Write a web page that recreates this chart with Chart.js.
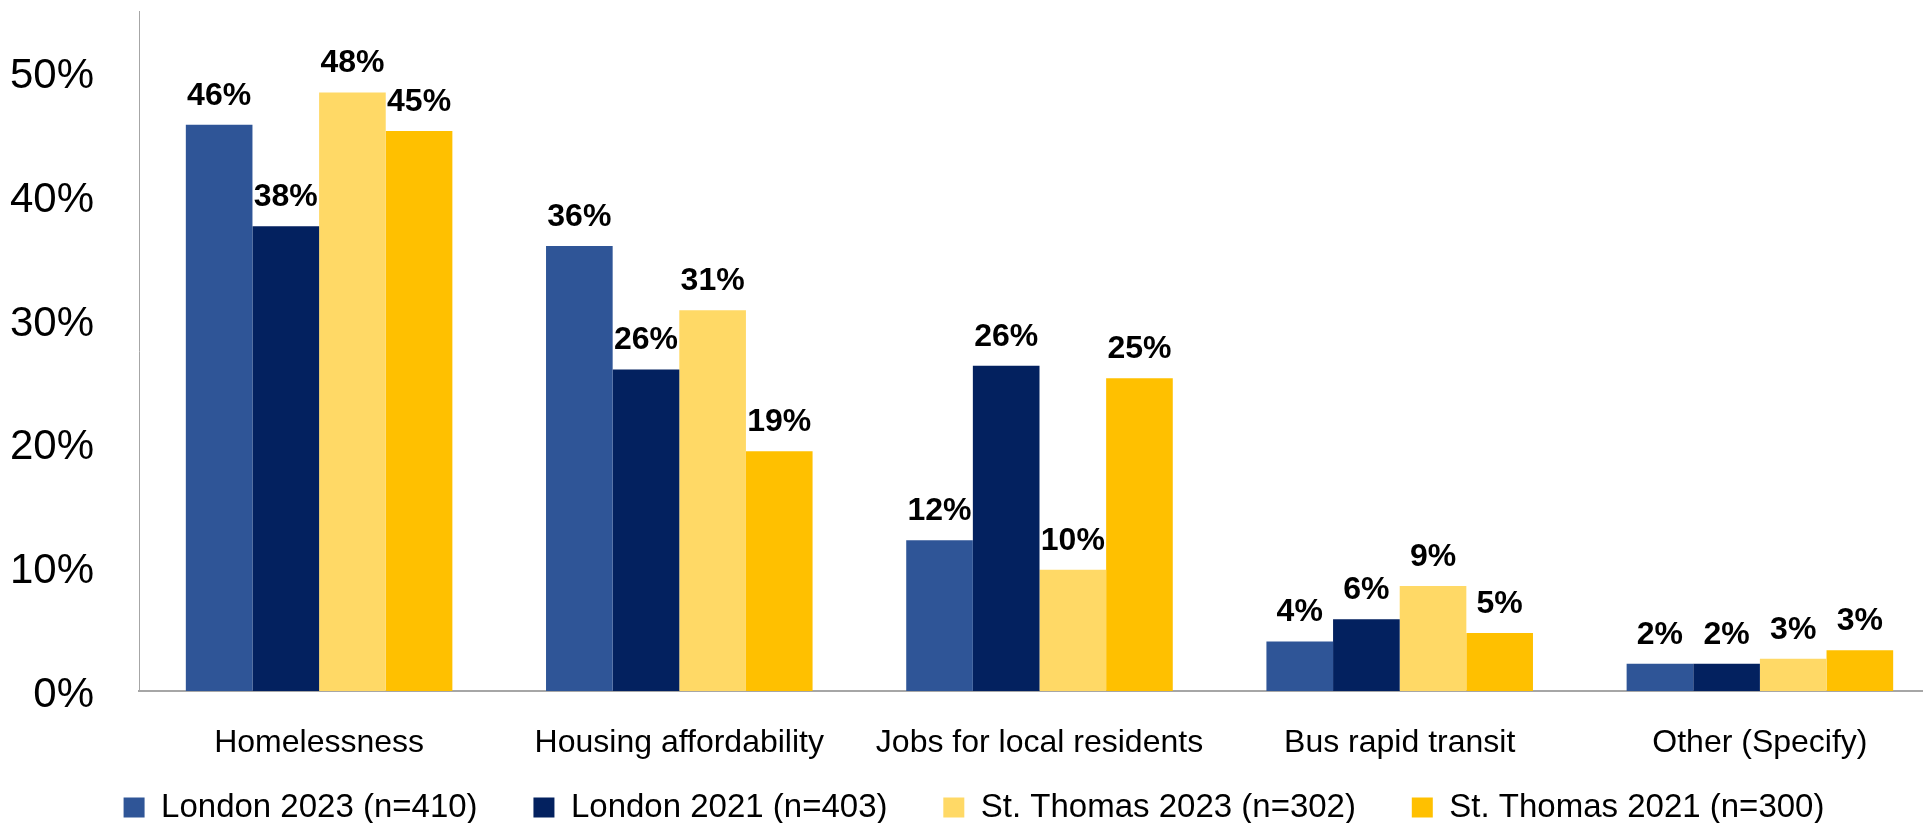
<!DOCTYPE html>
<html>
<head>
<meta charset="utf-8">
<script src="https://cdn.jsdelivr.net/npm/chart.js@4"></script>
<style>
  html, body { margin: 0; padding: 0; overflow: hidden; background: #fff; }
</style>
</head>
<body>
<canvas id="issuesChart" width="1940" height="834"></canvas>
<script>
var categories = ['Homelessness', 'Housing affordability', 'Jobs for local residents', 'Bus rapid transit', 'Other (Specify)'];
var seriesNames = ['London 2023 (n=410)', 'London 2021 (n=403)', 'St. Thomas 2023 (n=302)', 'St. Thomas 2021 (n=300)'];
var london2023 = [45.8, 36.0, 12.2, 4.0, 2.2];
var london2021 = [37.6, 26.0, 26.3, 5.8, 2.2];
var stThomas2023 = [48.4, 30.8, 9.8, 8.5, 2.6];
var stThomas2021 = [45.3, 19.4, 25.3, 4.7, 3.3];
var yTicks = [0, 10, 20, 30, 40, 50];
var colors = ['#2F5597', '#03215F', '#FFD966', '#FFC000'];

var fontName = '"Liberation Sans", Arial, sans-serif';

// percent labels over each bar
var barLabels = {
  id: 'barLabels',
  afterDatasetsDraw: function (chart) {
    var ctx = chart.ctx;
    ctx.save();
    ctx.font = 'bold 32px ' + fontName;
    ctx.fillStyle = '#000';
    ctx.textAlign = 'center';
    ctx.textBaseline = 'middle';
    chart.data.datasets.forEach(function (ds, i) {
      chart.getDatasetMeta(i).data.forEach(function (bar, j) {
        ctx.fillText(Math.round(ds.data[j]) + '%', bar.x, bar.y - 29);
      });
    });
    ctx.restore();
  }
};

var allSeries = [london2023, london2021, stThomas2023, stThomas2021];
var datasets = allSeries.map(function (values, i) {
  return {
    label: seriesNames[i],
    data: values,
    backgroundColor: colors[i],
    borderWidth: 0,
    barPercentage: 1,
    categoryPercentage: 0.74
  };
});

var ctx = document.getElementById('issuesChart').getContext('2d');
var myChart = new Chart(ctx, {
  type: 'bar',
  data: { labels: categories, datasets: datasets },
  plugins: [barLabels],
  options: {
    responsive: false,
    animation: false,
    layout: { padding: { top: 11, left: 8, right: 0, bottom: 0 } },
    plugins: {
      tooltip: { enabled: false },
      legend: {
        position: 'bottom',
        labels: {
          color: '#000',
          font: { family: fontName, size: 33 },
          boxWidth: 21,
          boxHeight: 20,
          padding: 10,
          // extra room between legend entries
          generateLabels: function (chart) {
            var items = Chart.defaults.plugins.legend.labels.generateLabels(chart);
            items.forEach(function (item, i) {
              if (i < items.length - 1) item.text = item.text + '     ';
            });
            return items;
          }
        }
      }
    },
    scales: {
      x: {
        grid: { display: false, drawTicks: false },
        border: { color: '#a6a6a6', width: 2 },
        ticks: {
          color: '#000',
          font: { family: fontName, size: 32 },
          padding: 33,
          maxRotation: 0,
          autoSkip: false
        },
        afterFit: function (scale) {
          scale.height = 90;
          scale.paddingLeft = 0;
          scale.paddingRight = 0;
        }
      },
      y: {
        min: 0,
        max: 55,
        grid: { display: false, drawTicks: false },
        border: { color: '#a6a6a6', width: 1 },
        ticks: {
          stepSize: 10,
          color: '#000',
          font: { family: fontName, size: 42 },
          padding: 45,
          labelOffset: 4,
          callback: function (v) { return v + '%'; }
        },
        afterBuildTicks: function (scale) {
          scale.ticks = yTicks.map(function (v) { return { value: v }; });
        },
        afterFit: function (scale) {
          scale.width = 131;
          scale.paddingTop = 0;
          scale.paddingBottom = 0;
        }
      }
    }
  }
});
</script>
</body>
</html>
